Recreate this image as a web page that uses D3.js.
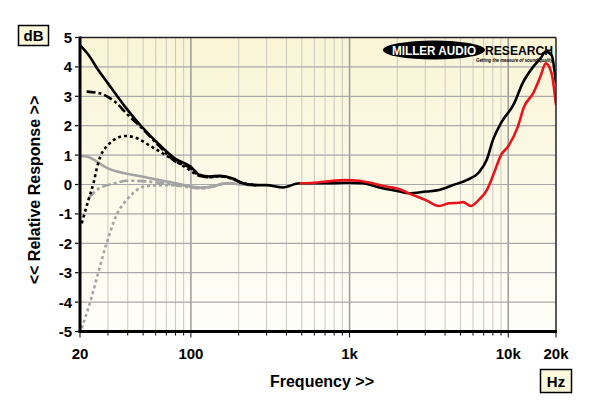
<!DOCTYPE html>
<html>
<head>
<meta charset="utf-8">
<script src="https://cdn.jsdelivr.net/npm/d3@7"></script>
<style>
  body { margin: 0; background: #fff; }
  svg { display: block; font-family: "Liberation Sans", Arial, sans-serif; }
</style>
</head>
<body>
<div id="chart"></div>
<script>
var width = 600;
var height = 404;

// frequency / value pairs for each trace
var blackSolidF = [20, 22.6, 26, 30, 38.4, 48.9, 62, 79, 100, 113, 131, 152, 185, 213, 258, 298, 380, 483, 781, 950, 1212, 1542, 2070, 2365, 3030, 3660, 4490, 5480, 6500, 7330, 8000, 8970, 10900, 12300, 14350, 15950, 17250, 18760, 20000];
var blackSolidV = [4.74, 4.41, 3.9, 3.44, 2.65, 1.97, 1.4, 0.89, 0.6, 0.33, 0.27, 0.3, 0.2, 0.04, -0.02, -0.02, -0.1, 0.04, 0.04, 0.06, 0.04, -0.1, -0.24, -0.3, -0.24, -0.19, -0.02, 0.15, 0.4, 0.85, 1.51, 2.08, 2.76, 3.44, 4.0, 4.29, 4.52, 4.4, 3.44];

var blackDashF = [22, 26.7, 33.1, 40.2, 48.9, 62, 79, 100, 113, 131, 152, 185, 213, 258];
var blackDashV = [3.16, 3.1, 2.82, 2.36, 1.93, 1.35, 0.8, 0.55, 0.3, 0.25, 0.28, 0.18, 0.04, -0.02];

var blackDotF = [20.5, 22.6, 24.3, 26, 30, 38.4, 44.3, 56.3, 71.8, 91.5, 113, 131, 152, 185, 213, 258];
var blackDotV = [-1.32, -0.53, 0.04, 0.72, 1.34, 1.65, 1.6, 1.29, 0.95, 0.6, 0.3, 0.25, 0.28, 0.18, 0.04, -0.02];

var graySolidF = [20, 22, 30, 49, 79, 116, 135, 168, 213, 258];
var graySolidV = [0.97, 0.95, 0.55, 0.27, 0.05, -0.1, -0.07, 0.04, 0, -0.03];

var grayDashF = [22.6, 25.5, 33, 40, 54, 79, 116, 135, 168, 213, 258];
var grayDashV = [-0.47, -0.19, 0.04, 0.13, 0.1, -0.02, -0.13, -0.08, 0.04, 0, -0.03];

var grayDotF = [20.5, 23.7, 26, 29.4, 34, 40.2, 51, 65, 85, 116, 135, 168, 213, 258];
var grayDotV = [-4.89, -3.82, -3.02, -2.0, -1.04, -0.47, -0.07, -0.02, -0.02, -0.13, -0.08, 0.04, 0, -0.03];

var redF = [483, 600, 711, 950, 1147, 1395, 1700, 2070, 2365, 3030, 3660, 4220, 4860, 5200, 5800, 6500, 7330, 8120, 9000, 10000, 11500, 12600, 14350, 15950, 17250, 18760, 20000];
var redV = [0.04, 0.06, 0.1, 0.15, 0.13, 0.04, -0.07, -0.16, -0.3, -0.53, -0.73, -0.64, -0.62, -0.6, -0.73, -0.53, -0.19, 0.38, 1.0, 1.3, 1.97, 2.65, 3.1, 3.67, 4.12, 3.78, 2.7];

var yTicks = [5, 4, 3, 2, 1, 0, -1, -2, -3, -4, -5];
var xTickVals = [20, 100, 1000, 10000, 20000];
var xTickLabels = ['20', '100', '1k', '10k', '20k'];

var pL = 80, pR = 556, pT = 37.5, pB = 331.5;

var x = d3.scaleLog().domain([20, 20000]).range([pL, pR]);
var y = d3.scaleLinear().domain([-5, 5]).range([pB, pT]);

var svg = d3.select('#chart').append('svg')
  .attr('width', width).attr('height', height);

var defs = svg.append('defs');
var grad = defs.append('linearGradient')
  .attr('id', 'bg').attr('x1', 0).attr('y1', 0).attr('x2', 0).attr('y2', 1);
grad.append('stop').attr('offset', '0%').attr('stop-color', '#faf5d6');
grad.append('stop').attr('offset', '100%').attr('stop-color', '#fefef9');

defs.append('clipPath').attr('id', 'clip')
  .append('rect').attr('x', pL).attr('y', pT)
  .attr('width', pR - pL).attr('height', pB - pT);

svg.append('rect')
  .attr('x', pL).attr('y', pT)
  .attr('width', pR - pL).attr('height', pB - pT)
  .attr('fill', 'url(#bg)');

// grid lines
var gridF = [];
[10, 100, 1000, 10000].forEach(function(dec) {
  for (var k = 1; k <= 9; k++) {
    var f = dec * k;
    if (f > 20 && f < 20000) gridF.push(f);
  }
});
var isMajor = function(f) { return f === 100 || f === 1000 || f === 10000; };

svg.append('g').selectAll('line')
  .data(gridF)
  .enter().append('line')
  .attr('x1', function(d) { return x(d); })
  .attr('x2', function(d) { return x(d); })
  .attr('y1', pT).attr('y2', pB)
  .attr('stroke', function(d) { return isMajor(d) ? '#9a9a9a' : '#c9c9c4'; })
  .attr('stroke-width', function(d) { return isMajor(d) ? 1.5 : 1; });

svg.append('g').selectAll('line')
  .data(yTicks.filter(function(d) { return d > -5 && d < 5; }))
  .enter().append('line')
  .attr('x1', pL).attr('x2', pR)
  .attr('y1', function(d) { return y(d); })
  .attr('y2', function(d) { return y(d); })
  .attr('stroke', '#a8a8a8')
  .attr('stroke-width', 1.2);

// traces
var line = d3.line()
  .x(function(d) { return x(d[0]); })
  .y(function(d) { return y(d[1]); })
  .curve(d3.curveMonotoneX);

function pairs(f, v) { return f.map(function(d, i) { return [d, v[i]]; }); }

var traces = [
  { f: grayDotF, v: grayDotV, color: '#a3a3a3', dash: '3,3' },
  { f: grayDashF, v: grayDashV, color: '#a3a3a3', dash: '9,3,3,3' },
  { f: graySolidF, v: graySolidV, color: '#a3a3a3', dash: null },
  { f: blackDotF, v: blackDotV, color: '#000', dash: '3,3' },
  { f: blackDashF, v: blackDashV, color: '#000', dash: '9,3,3,3' },
  { f: blackSolidF, v: blackSolidV, color: '#000', dash: null },
  { f: redF, v: redV, color: '#e8141a', dash: null }
];

var plot = svg.append('g').attr('clip-path', 'url(#clip)');
plot.selectAll('path')
  .data(traces)
  .enter().append('path')
  .attr('d', function(d) { return line(pairs(d.f, d.v)); })
  .attr('fill', 'none')
  .attr('stroke', function(d) { return d.color; })
  .attr('stroke-width', 2.6)
  .attr('stroke-linejoin', 'round')
  .attr('stroke-dasharray', function(d) { return d.dash; });

// frame
svg.append('line').attr('x1', pL).attr('x2', pR).attr('y1', pT).attr('y2', pT)
  .attr('stroke', '#222').attr('stroke-width', 1.5);
svg.append('line').attr('x1', pR).attr('x2', pR).attr('y1', pT).attr('y2', pB)
  .attr('stroke', '#222').attr('stroke-width', 1.5);
svg.append('line').attr('x1', pL).attr('x2', pL).attr('y1', pT - 1).attr('y2', pB + 1.5)
  .attr('stroke', '#000').attr('stroke-width', 3);
svg.append('line').attr('x1', pL - 1.5).attr('x2', pR + 1).attr('y1', pB).attr('y2', pB)
  .attr('stroke', '#000').attr('stroke-width', 3);

// x ticks
svg.append('g').selectAll('line')
  .data([20].concat(gridF, [20000]))
  .enter().append('line')
  .attr('x1', function(d) { return x(d); })
  .attr('x2', function(d) { return x(d); })
  .attr('y1', pB + 1.5)
  .attr('y2', function(d) { return (d === 20 || d === 20000 || isMajor(d)) ? pB + 6 : pB + 4; })
  .attr('stroke', '#000').attr('stroke-width', 1);

svg.append('g').selectAll('text')
  .data(xTickVals)
  .enter().append('text')
  .attr('x', function(d) { return x(d); })
  .attr('y', 359)
  .attr('text-anchor', 'middle')
  .attr('font-size', 15).attr('font-weight', 'bold')
  .text(function(d, i) { return xTickLabels[i]; });

// y ticks
svg.append('g').selectAll('line')
  .data(yTicks)
  .enter().append('line')
  .attr('x1', pL - 5).attr('x2', pL - 1.5)
  .attr('y1', function(d) { return y(d); })
  .attr('y2', function(d) { return y(d); })
  .attr('stroke', '#000').attr('stroke-width', 1.2);

svg.append('g').selectAll('text')
  .data(yTicks)
  .enter().append('text')
  .attr('x', pL - 8)
  .attr('y', function(d) { return y(d) + 5.5; })
  .attr('text-anchor', 'end')
  .attr('font-size', 15).attr('font-weight', 'bold')
  .text(function(d) { return d; });

// axis titles
svg.append('text')
  .attr('x', 322).attr('y', 387)
  .attr('text-anchor', 'middle')
  .attr('font-size', 16).attr('font-weight', 'bold')
  .text('Frequency >>');

svg.append('text')
  .attr('transform', 'translate(40,190) rotate(-90)')
  .attr('text-anchor', 'middle')
  .attr('font-size', 16).attr('font-weight', 'bold')
  .text('<< Relative Response >>');

// unit boxes
svg.append('rect').attr('x', 18.5).attr('y', 25.5).attr('width', 30).attr('height', 20)
  .attr('fill', '#fbf8dc').attr('stroke', '#000').attr('stroke-width', 1.5);
svg.append('text').attr('x', 33.5).attr('y', 41).attr('text-anchor', 'middle')
  .attr('font-size', 15).attr('font-weight', 'bold').text('dB');

svg.append('rect').attr('x', 540.5).attr('y', 369.5).attr('width', 31).attr('height', 23)
  .attr('fill', '#fbf8dc').attr('stroke', '#000').attr('stroke-width', 1.5);
svg.append('text').attr('x', 556).attr('y', 387).attr('text-anchor', 'middle')
  .attr('font-size', 15).attr('font-weight', 'bold').text('Hz');

// logo
var logo = svg.append('g');
logo.append('ellipse').attr('cx', 434).attr('cy', 50).attr('rx', 51).attr('ry', 9.5)
  .attr('fill', '#000');
logo.append('text').attr('x', 434).attr('y', 55).attr('text-anchor', 'middle')
  .attr('font-size', 13).attr('font-weight', 'bold').attr('fill', '#fff')
  .attr('textLength', 84).attr('lengthAdjust', 'spacingAndGlyphs')
  .text('MILLER AUDIO');
logo.append('text').attr('x', 485).attr('y', 55)
  .attr('font-size', 13).attr('font-weight', 'bold').attr('fill', '#000')
  .attr('textLength', 68).attr('lengthAdjust', 'spacingAndGlyphs')
  .text('RESEARCH');
logo.append('text').attr('x', 476).attr('y', 61.5)
  .attr('font-size', 5.5).attr('font-weight', 'bold').attr('font-style', 'italic').attr('fill', '#000')
  .attr('textLength', 77).attr('lengthAdjust', 'spacingAndGlyphs')
  .text('Getting the measure of sound quality');
</script>
</body>
</html>
